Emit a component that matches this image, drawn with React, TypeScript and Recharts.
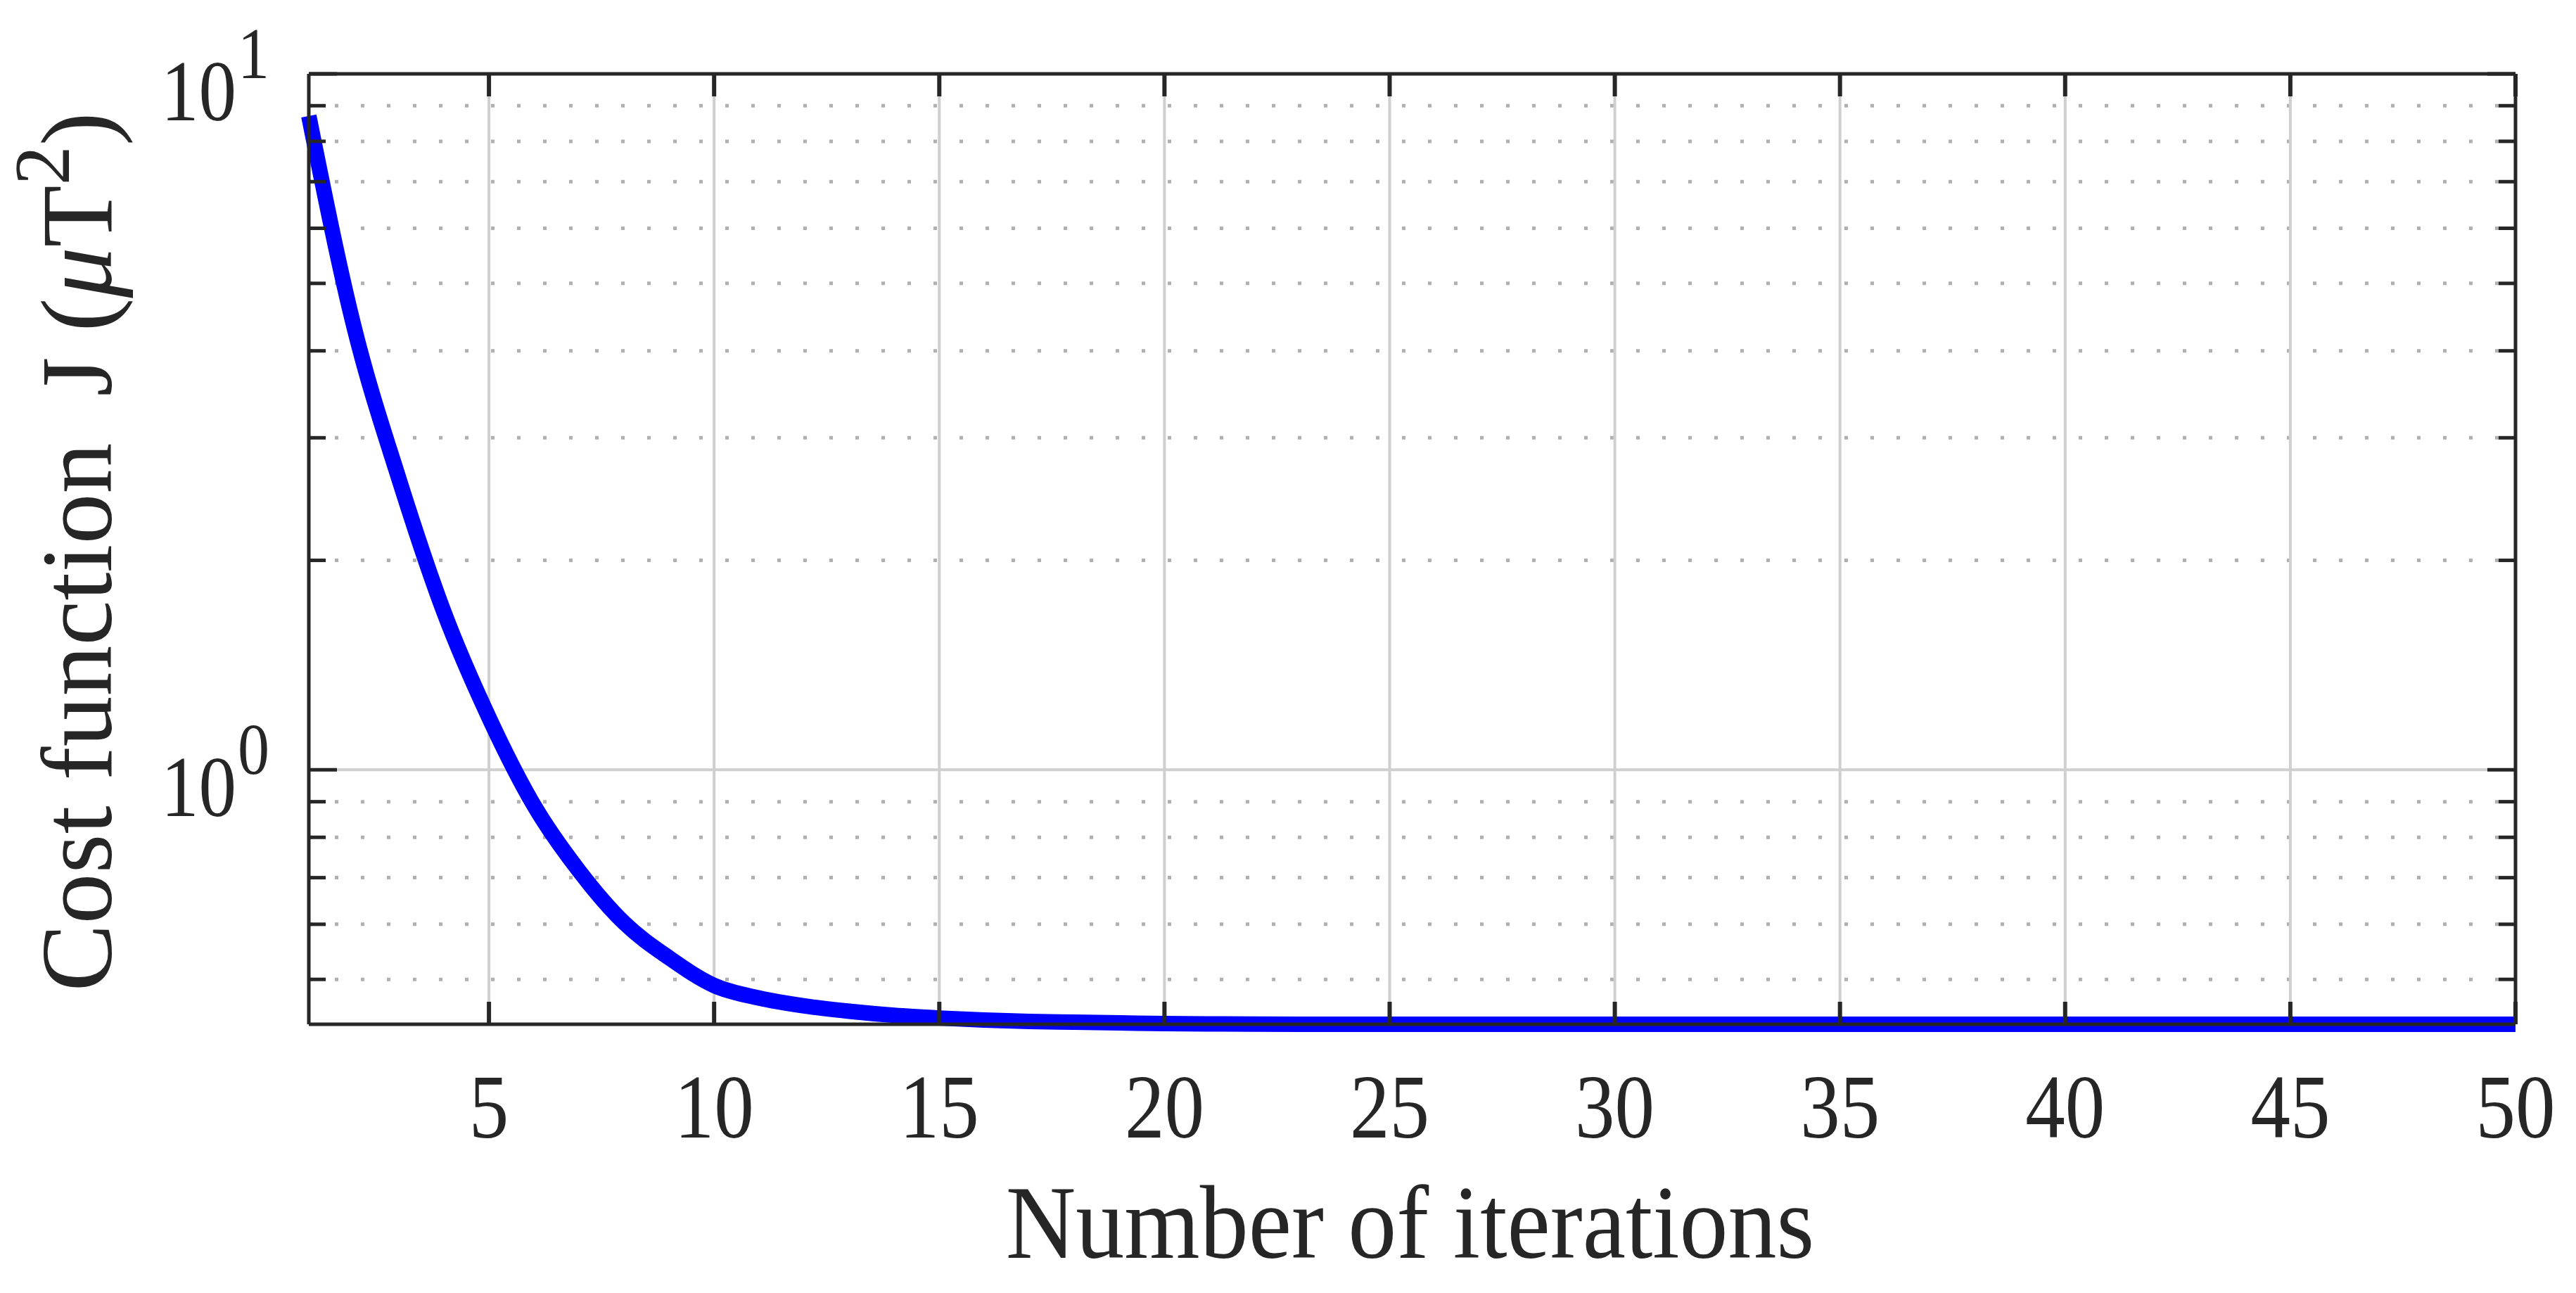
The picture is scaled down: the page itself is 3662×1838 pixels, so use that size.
import React from 'react';
import { LineChart, Line, XAxis, YAxis, ReferenceLine } from 'recharts';

// ---- data ----
const iterations = [
  1, 2, 3, 4, 5, 6, 7, 8, 9, 10,
  11, 12, 13, 14, 15, 16, 17, 18, 19, 20,
  21, 22, 23, 24, 25, 26, 27, 28, 29, 30,
  31, 32, 33, 34, 35, 36, 37, 38, 39, 40,
  41, 42, 43, 44, 45, 46, 47, 48, 49, 50,
];
const costJ = [
  8.7, 4.34, 2.62, 1.686, 1.189, 0.889, 0.716, 0.603, 0.537, 0.49,
  0.47, 0.458, 0.45, 0.444, 0.44, 0.437, 0.435, 0.434, 0.433, 0.432,
  0.4315, 0.4312, 0.431, 0.431, 0.431, 0.431, 0.431, 0.431, 0.431, 0.431,
  0.431, 0.431, 0.431, 0.431, 0.431, 0.431, 0.431, 0.431, 0.431, 0.431,
  0.431, 0.431, 0.431, 0.431, 0.431, 0.431, 0.431, 0.431, 0.431, 0.431,
];
const xTicks = [5, 10, 15, 20, 25, 30, 35, 40, 45, 50];
const xGridLines = [5, 10, 15, 20, 25, 30, 35, 40, 45];
const yTicks = [0.5, 0.6, 0.7, 0.8, 0.9, 1, 2, 3, 4, 5, 6, 7, 8, 9, 10];
const yMajorTicks = [1, 10];
const yMinorGrid = [0.5, 0.6, 0.7, 0.8, 0.9, 2, 3, 4, 5, 6, 7, 8, 9];
const yMajorGrid = [1];
const xDomain = [1, 50];
const yDomain = [0.431, 10];
const xLabelText = 'Number of iterations';

const data = iterations.map((x, i) => ({ x, J: costJ[i] }));

// ---- styles ----
const FONT = '"Liberation Serif", "Times New Roman", Times, serif';
const AXIS = '#262626';
const AXIS_W = 5;

function BottomTick(props: any) {
  const { x, y, payload } = props;
  return (
    <g>
      <line x1={x} x2={x} y1={y} y2={y - 32} stroke={AXIS} strokeWidth={6} />
      <text
        transform={`translate(${x},${y + 161}) scale(1,1.15)`}
        textAnchor="middle"
        fontSize={113}
        fontFamily={FONT}
        fill={AXIS}
      >
        {payload.value}
      </text>
    </g>
  );
}

function TopTick(props: any) {
  const { x, y } = props;
  return <line x1={x} x2={x} y1={y} y2={y + 32} stroke={AXIS} strokeWidth={6} />;
}

function LeftTick(props: any) {
  const { x, y, payload } = props;
  const v = payload.value;
  const major = yMajorTicks.includes(v);
  const len = major ? 40 : 24;
  const exp = String(Math.round(Math.log10(v)));
  return (
    <g>
      <line x1={x} x2={x + len} y1={y} y2={y} stroke={AXIS} strokeWidth={5} />
      {major && (
        <text
          transform={`translate(${x - 103},${y + 66}) scale(1,1.15)`}
          textAnchor="end"
          fontSize={107}
          fontFamily={FONT}
          fill={AXIS}
        >
          10
        </text>
      )}
      {major && (
        <text
          transform={`translate(${x - 101},${y + 6}) scale(1,1.15)`}
          textAnchor="start"
          fontSize={90}
          fontFamily={FONT}
          fill={AXIS}
        >
          {exp}
        </text>
      )}
    </g>
  );
}

function RightTick(props: any) {
  const { x, y, payload } = props;
  const major = yMajorTicks.includes(payload.value);
  const len = major ? 40 : 24;
  return <line x1={x} x2={x - len} y1={y} y2={y} stroke={AXIS} strokeWidth={5} />;
}

function XLabel(props: any) {
  const vb = props.viewBox && props.viewBox.width > 100 ? props.viewBox : { x: 439, y: 1456, width: 3137, height: 382 };
  return (
    <text
      transform={`translate(${vb.x + vb.width / 2 - 3},${vb.y + 332}) scale(1,1.07)`}
      textAnchor="middle"
      fontSize={138}
      fontFamily={FONT}
      fill={AXIS}
    >
      {xLabelText}
    </text>
  );
}

function YLabel(props: any) {
  const vb = props.viewBox && props.viewBox.height > 100 ? props.viewBox : { x: 0, y: 105, width: 439, height: 1351 };
  const cx = vb.x + 158;
  const cy = vb.y + vb.height / 2 + 4;
  return (
    <text
      transform={`translate(${cx},${cy}) rotate(-90)`}
      textAnchor="middle"
      fontSize={144}
      fontFamily={FONT}
      fill={AXIS}
    >
      <tspan>Cost function</tspan>
      <tspan dx={30}> J </tspan>
      <tspan>(</tspan>
      <tspan fontStyle="italic">μ</tspan>
      <tspan>T</tspan>
      <tspan fontSize={112} dy={-60}>2</tspan>
      <tspan dy={60}>)</tspan>
    </text>
  );
}

export default function App() {
  return (
    <div style={{ position: 'absolute', left: 0, top: 0, width: 3662, height: 1838, background: '#ffffff' }}>
      <LineChart
        width={3662}
        height={1838}
        data={data}
        margin={{ top: 104, right: 85, bottom: 0, left: 0 }}
      >
        <XAxis
          dataKey="x"
          type="number"
          domain={xDomain}
          ticks={xTicks}
          interval={0}
          height={382}
          tickSize={0}
          tickMargin={0}
          tickLine={false}
          axisLine={{ stroke: AXIS, strokeWidth: AXIS_W }}
          tick={BottomTick}
          label={<XLabel />}
        />
        <XAxis
          xAxisId="top"
          orientation="top"
          dataKey="x"
          type="number"
          domain={xDomain}
          allowDataOverflow
          ticks={xTicks}
          interval={0}
          height={1}
          tickSize={0}
          tickMargin={0}
          tickLine={false}
          axisLine={{ stroke: AXIS, strokeWidth: AXIS_W }}
          tick={TopTick}
        />
        <YAxis
          type="number"
          scale="log"
          domain={yDomain}
          ticks={yTicks}
          interval={0}
          width={439}
          tickSize={0}
          tickMargin={0}
          tickLine={false}
          axisLine={{ stroke: AXIS, strokeWidth: AXIS_W }}
          tick={LeftTick}
          label={<YLabel />}
        />
        <YAxis
          yAxisId="right"
          orientation="right"
          type="number"
          scale="log"
          domain={yDomain}
          allowDataOverflow
          ticks={yTicks}
          interval={0}
          width={1}
          tickSize={0}
          tickMargin={0}
          tickLine={false}
          axisLine={{ stroke: AXIS, strokeWidth: AXIS_W }}
          tick={RightTick}
        />
        {yMinorGrid.map((v) => (
          <ReferenceLine key={`ym${v}`} y={v} stroke="#b0b0b0" strokeWidth={5} strokeDasharray="5 32" />
        ))}
        {yMajorGrid.map((v) => (
          <ReferenceLine key={`yM${v}`} y={v} stroke="#cfcfcf" strokeWidth={4} />
        ))}
        {xGridLines.map((v) => (
          <ReferenceLine key={`xg${v}`} x={v} stroke="#cfcfcf" strokeWidth={4} />
        ))}
        <Line
          type="monotone"
          dataKey="J"
          stroke="#0000ff"
          strokeWidth={22}
          strokeLinejoin="round"
          dot={false}
          activeDot={false}
          isAnimationActive={false}
        />
      </LineChart>
    </div>
  );
}
